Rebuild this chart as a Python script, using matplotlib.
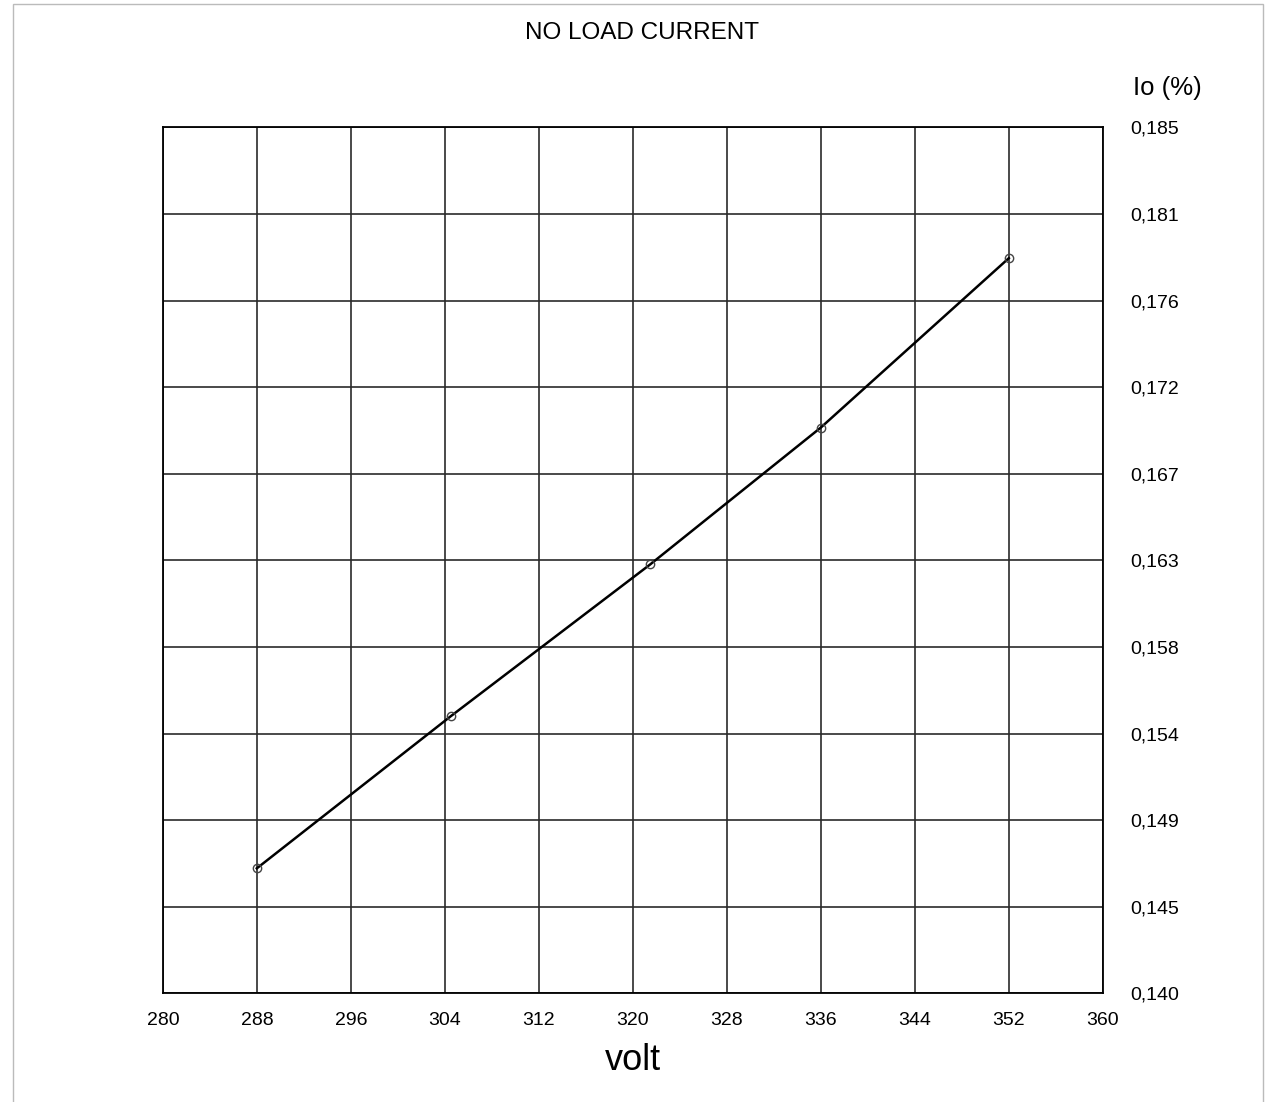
import numpy as np
import matplotlib.pyplot as plt
from matplotlib.patches import Rectangle

plt.rcParams['font.family'] = ['Liberation Sans', 'DejaVu Sans']

# measured points (voltage vs no load current)
volt = [288, 304.5, 321.5, 336, 352]
io_pct = [0.1465, 0.1544, 0.1623, 0.1694, 0.1782]

x_ticks = [280, 288, 296, 304, 312, 320, 328, 336, 344, 352, 360]
y_ticks = [0.140, 0.1445, 0.149, 0.1535, 0.158, 0.1625, 0.167, 0.1715, 0.176, 0.1805, 0.185]
y_labels = ['0,140', '0,145', '0,149', '0,154', '0,158', '0,163',
            '0,167', '0,172', '0,176', '0,181', '0,185']

fig = plt.figure(figsize=(12.72, 11.02), dpi=100)
ax = fig.add_axes([0.128, 0.0985, 0.739, 0.786])

ax.plot(volt, io_pct, color='black', linewidth=1.8,
        marker='o', markersize=6, markerfacecolor='none',
        markeredgecolor='#444444', markeredgewidth=1)

ax.set_xlim(280, 360)
ax.set_ylim(0.140, 0.185)
ax.set_xticks(x_ticks)
ax.set_yticks(y_ticks)
ax.set_yticklabels(y_labels)
ax.yaxis.tick_right()
ax.tick_params(axis='both', length=0, labelsize=14)
ax.tick_params(axis='y', pad=20)
ax.tick_params(axis='x', pad=13.5)
ax.grid(True, color='#2a2a2a', linewidth=1.2)
for s in ax.spines.values():
    s.set_color('black')
    s.set_linewidth(1.3)

ax.set_xlabel('volt', fontsize=26, labelpad=10)
fig.text(0.505, 0.970, 'NO LOAD CURRENT', ha='center', va='center', fontsize=17.5)
fig.text(0.9175, 0.920, 'Io (%)', ha='center', va='center', fontsize=18.5)

# faint page frame from the scan
fig.patches.append(Rectangle((0.010, -0.01), 0.983, 1.006, transform=fig.transFigure,
                             fill=False, edgecolor='#bbbbbb', linewidth=1))

fig.savefig('out.png', dpi=100)
